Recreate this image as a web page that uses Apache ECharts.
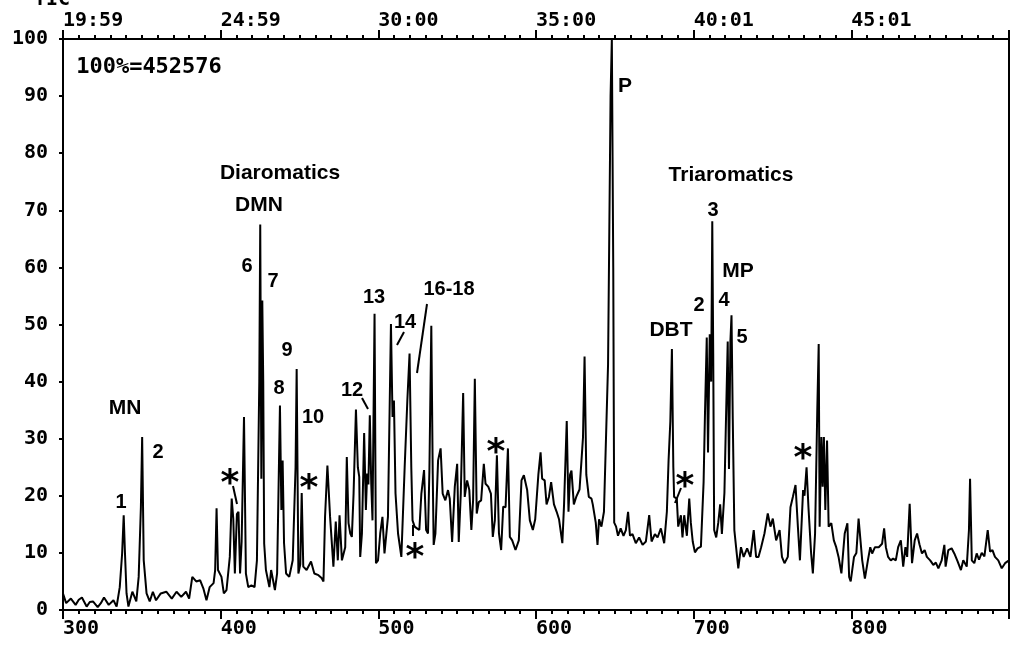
<!DOCTYPE html>
<html>
<head>
<meta charset="utf-8">
<script src="https://cdn.jsdelivr.net/npm/echarts@6/dist/echarts.min.js"></script>
<style>
html,body{margin:0;padding:0;background:#fff;}
#chart{width:1016px;height:650px;}
</style>
</head>
<body>
<div id="chart"></div>
<script>
// ---- data (scan number vs. relative intensity, %) ----
const scans = [
300,302,305,308,310,312,315,317,319,322,324,326,329,332,334,336,337.5,338.5,339.3,340.3,341.5,344,346.5,348,349.4,350.2,351.2,353,355,357,359,362,365.5,369,372,375,378,380,382,384.5,387,389,391,393,395.5,396.5,397.4,398.3,400.5,402,403.7,405.8,407,408,409,410.3,411.3,412.3,413.3,414.8,416,417.5,419.5,421.5,423,424.5,425.1,425.8,426.4,427,427.6,428.7,430.9,432,434.4,435.8,437.6,438.5,439.3,440.2,441.5,443.5,445.7,447.5,448.2,449.3,450.5,451.4,452.4,454.5,457.3,459.4,462,464,465.2,466.2,467.7,469.4,471.5,473,474.3,475.4,476.9,479,480,481.1,482.2,483.2,484.3,485.8,487,487.9,488.5,489.6,491,492.1,492.9,493.7,494.6,495.5,496.3,497.6,498.5,499.8,501.2,502.6,503.9,506.1,508,509,509.9,510.9,512.5,514.6,516.7,518.4,519.8,520.9,521.7,523,524.5,526,527.3,529,530.3,531.5,532.4,533.6,534.5,535.1,536.2,537.9,539.5,540.8,542.5,544.2,545.3,546.8,548.5,550,551,552.3,553.8,554.8,556.3,557.7,559,560.1,561.2,562.4,563.7,565.2,566.9,568,569.7,571.4,572.6,573.9,575.2,576.5,577.9,579.2,580.7,582.2,583.4,584.9,587,589.1,590.8,592.3,594.4,596.1,598,599.5,601.5,602.9,603.9,605.5,606.7,608.2,609.6,611.4,613.1,614.6,616.7,617.8,619.5,620.6,621.6,622.5,624,625.5,627.6,628.7,629.8,630.8,631.9,633.5,635.2,636,637.9,639,640,641.5,643.1,645.7,647.3,648.1,649,649.6,650.8,652,653.7,655.5,657,658.4,659.6,661.2,663.3,665.4,667.6,669.7,671.8,673.3,675.4,677.1,679.2,681.3,683,684.1,685.2,686.2,687.1,687.6,689.3,690.2,691.9,692.9,694,695.7,697.2,698.2,699.4,700.8,702.5,704.6,706.3,707.2,708.3,709.1,710.2,711.1,711.8,712.4,713,714.3,715.6,716.8,717.9,719.5,720.5,721.6,722.4,723.3,724,724.8,725.8,726.9,728.3,730,731.7,733.9,736,738.1,739.6,741.1,742.8,744.9,747,748.7,750.2,752.3,754.5,756,757.6,759.7,761.4,762.9,764.6,766.1,767.4,769.4,770.3,771.6,772.8,774.5,775.6,777,778.4,779.3,779.9,781,781.8,782.6,783.5,784.6,785.6,787.3,788.9,790.4,791.9,793.7,795.8,797.5,798.6,799.6,801.7,803.2,804.6,806.9,808.6,810.5,812,813.2,815,817.4,819.5,820.8,821.9,823.3,825,826.5,828.2,829.7,831.4,832.9,834.3,835.4,837,838.5,840.2,841.7,843.2,844.8,846.5,847.9,850,852,853.6,855.2,857.3,859,859.8,861.5,863.6,865.3,867.4,869.5,871,873.2,874.6,875.3,876.4,878,879.5,881,882.7,884.4,886.5,888,889.5,891.1,893.2,895.4,897.5,900
];
const intensity = [
2.9,1.2,2.0,0.9,1.8,2.2,0.6,1.4,1.5,0.5,1.2,2.2,0.9,1.7,0.6,4.0,9.9,16.6,10,2.9,0.6,3.2,1.5,5.8,18,30.3,8.7,2.9,1.5,3.2,1.7,2.9,3.2,2.0,3.2,2.3,3.2,2.0,5.8,5.0,5.2,3.8,1.7,4.0,4.7,7.0,17.8,7.0,5.8,2.9,3.5,9.3,19.5,16,6.4,16.8,17.2,6.4,12,33.8,6.4,4.0,4.3,4.0,8.7,40,67.5,23,54.2,40,11.6,7.0,4.0,7.0,3.5,6.4,35.8,17.5,26.2,11.7,6.4,5.8,8.7,25,42.2,6.4,8,20.5,7.6,7.0,8.5,6.4,6.1,5.6,5.0,16.3,25.3,16.3,7.6,15.5,8.7,16.6,8.7,11,26.8,15.2,13.4,12.8,20.4,35.1,25,23.3,9.3,13.4,31,17.5,23.9,22,34.1,22.1,15.7,51.9,8.2,8.7,13.4,16.3,9.9,16.3,50.1,33.8,36.7,20.4,13.4,9.3,25,36.7,44.9,25,15.7,14.6,14.3,14.0,20.4,24.5,14,13.4,24.5,49.8,23.9,11.4,13.4,26.2,28.3,20.4,19.2,21,19.5,11.9,21.6,25.6,11.9,20.4,38,19.8,22.7,21,14,19.2,40.5,16.9,18.9,19.2,25.6,22.1,21.6,20.4,12.8,15.7,27.1,13.4,10.5,18.1,18,28.3,12.8,12.2,10.5,12.2,22.7,23.6,21,15.7,14,15.9,23.7,27.6,23,22.7,18.5,19.8,22.4,18.5,17.2,15.9,11.7,18.5,33.1,17.2,23.7,24.4,18.5,19.8,21.1,25.6,30.2,44.4,23.7,19.8,19.5,18.5,15.3,11.4,15.9,14.6,17.2,43,90,100,60,15.3,14.6,13,14.3,13,14,17.2,13,13.3,11.7,12.7,11.4,12,16.6,12,13.3,12.7,14.3,11.7,17.2,26.3,33,45.7,25,19.8,19.5,14.6,16.6,12.7,16.6,13,19.5,15.3,12,10.1,10.8,11.1,22.4,34.7,47.7,27.6,48.3,40,68.1,45,14,12.7,15.3,18.5,13.3,20.5,33.4,47,24.7,47,51.6,33.4,14,11,7.3,11,9.3,10.8,9.3,14,9.3,9.3,11,13.4,16.9,14.6,16,12.2,14,9.3,8.2,9.3,18,19.8,21.9,14.6,8.7,21,20,25,18,9.9,6.4,13.4,35,46.6,14.6,30.3,21.6,30.3,17.5,29.7,14.6,15.2,12.2,11,9.3,6.4,13.4,15.2,5.8,5.0,9.3,10,16,8.7,5.5,8.7,11,9.9,11,11,11.6,14.3,11,9.3,8.7,9,8.7,11,12.2,7.6,11,9.3,18.6,8.2,12.2,13.4,11.5,9.9,10.5,9.3,8.7,7.9,8.3,7.3,8.7,11.4,7.6,10.5,10.8,9.9,8.5,7,8.7,7.6,14,23,8.7,8.2,9.9,8.8,10,9.4,14,10.2,10.5,9.3,8.7,7.3,8.2,8.7
];
// axis tick labels
const bottomTickScans = [300, 400, 500, 600, 700, 800];
const topTickLabels = ['19:59', '24:59', '30:00', '35:00', '40:01', '45:01'];
const yTicks = [0, 10, 20, 30, 40, 50, 60, 70, 80, 90, 100];

// ---- annotations (pixel placement) ----
const digitFont = 'bold 20px "Liberation Sans", Arial, sans-serif';
const wordFont = 'bold 21px "Liberation Sans", Arial, sans-serif';
const annotations = [
  ['MN', 125, 408, 1], ['1', 121, 502, 0], ['2', 158, 452, 0],
  ['Diaromatics', 280, 173, 1], ['DMN', 259, 205, 1],
  ['6', 247, 266, 0], ['7', 273, 281, 0], ['9', 287, 350, 0], ['8', 279, 388, 0], ['10', 313, 417, 0],
  ['12', 352, 390, 0], ['13', 374, 297, 0], ['14', 405, 322, 0], ['16-18', 449, 289, 0],
  ['P', 625, 86, 1],
  ['Triaromatics', 731, 175, 1], ['3', 713, 210, 0], ['MP', 738, 271, 1],
  ['2', 699, 305, 0], ['4', 724, 300, 0], ['DBT', 671, 330, 1], ['5', 742, 337, 0]
];
const asterisks = [[230, 475], [309, 480], [415, 549], [496, 444], [685, 478], [803, 450]];
const leaders = [
  [233, 486, 237, 504], [362, 398, 368, 409], [404, 332, 397, 345],
  [427, 304, 417, 373], [413, 525, 413, 536], [681, 488, 675, 503]
];

const data = scans.map((s, i) => [s, intensity[i]]);

const monoLabel = {
  color: '#000', fontFamily: '"DejaVu Sans Mono", monospace', fontWeight: 'bold', fontSize: 20
};

const graphics = [];
annotations.forEach(a => graphics.push({
  type: 'text', x: a[1], y: a[2], z: 10,
  style: { text: a[0], font: a[3] ? wordFont : digitFont, fill: '#000', align: 'center', verticalAlign: 'middle' }
}));
asterisks.forEach(a => graphics.push({
  type: 'text', x: a[0], y: a[1] + 10, z: 10,
  style: { text: '*', font: 'bold 36px "DejaVu Sans", sans-serif', fill: '#000', align: 'center', verticalAlign: 'middle' }
}));
leaders.forEach(l => graphics.push({
  type: 'line', z: 10, shape: { x1: l[0], y1: l[1], x2: l[2], y2: l[3] },
  style: { stroke: '#000', lineWidth: 2 }
}));
graphics.push({
  type: 'text', x: 149, y: 67, z: 10,
  style: { text: '100%=452576', font: 'bold 22px "DejaVu Sans Mono", monospace', fill: '#000', align: 'center', verticalAlign: 'middle' }
});
graphics.push({
  type: 'text', x: 34, y: 10, z: 10,
  style: { text: 'TIC', font: 'bold 20px "DejaVu Sans Mono", monospace', fill: '#000', align: 'left', verticalAlign: 'bottom' }
});

const xCommon = {
  type: 'value', min: 300, max: 900, interval: 100,
  axisLine: { show: true, onZero: false, lineStyle: { color: '#000', width: 2 } },
  axisTick: { show: true, length: 9, lineStyle: { color: '#000', width: 2 } },
  minorTick: { show: true, splitNumber: 10, length: 4, lineStyle: { color: '#000', width: 2 } },
  splitLine: { show: false }, minorSplitLine: { show: false }
};

const chart = echarts.init(document.getElementById('chart'), null, { renderer: 'canvas' });
chart.setOption({
  animation: false,
  backgroundColor: '#fff',
  grid: { left: 63, right: 7, top: 39, bottom: 40, show: true, borderColor: '#000', borderWidth: 2, backgroundColor: 'transparent' },
  xAxis: [
    Object.assign({}, xCommon, {
      position: 'bottom',
      axisLabel: Object.assign({}, monoLabel, { margin: 9, align: 'left', showMaxLabel: false,
        formatter: v => bottomTickScans.indexOf(v) >= 0 ? String(v) : '' })
    }),
    Object.assign({}, xCommon, {
      position: 'top',
      axisLabel: Object.assign({}, monoLabel, { margin: 8, align: 'left', showMaxLabel: false,
        formatter: v => { const i = bottomTickScans.indexOf(v); return i >= 0 ? topTickLabels[i] : ''; } })
    })
  ],
  yAxis: {
    type: 'value', min: yTicks[0], max: yTicks[yTicks.length - 1], interval: 10,
    axisLine: { show: true, lineStyle: { color: '#000', width: 2 } },
    axisTick: { show: true, length: 4, lineStyle: { color: '#000', width: 2 } },
    splitLine: { show: false },
    axisLabel: Object.assign({}, monoLabel, { margin: 15 })
  },
  series: [{
    type: 'line', xAxisIndex: 0, data: data,
    showSymbol: false, symbol: 'none', clip: true,
    lineStyle: { color: '#000', width: 2 }
  }],
  graphic: graphics
});
</script>
</body>
</html>
